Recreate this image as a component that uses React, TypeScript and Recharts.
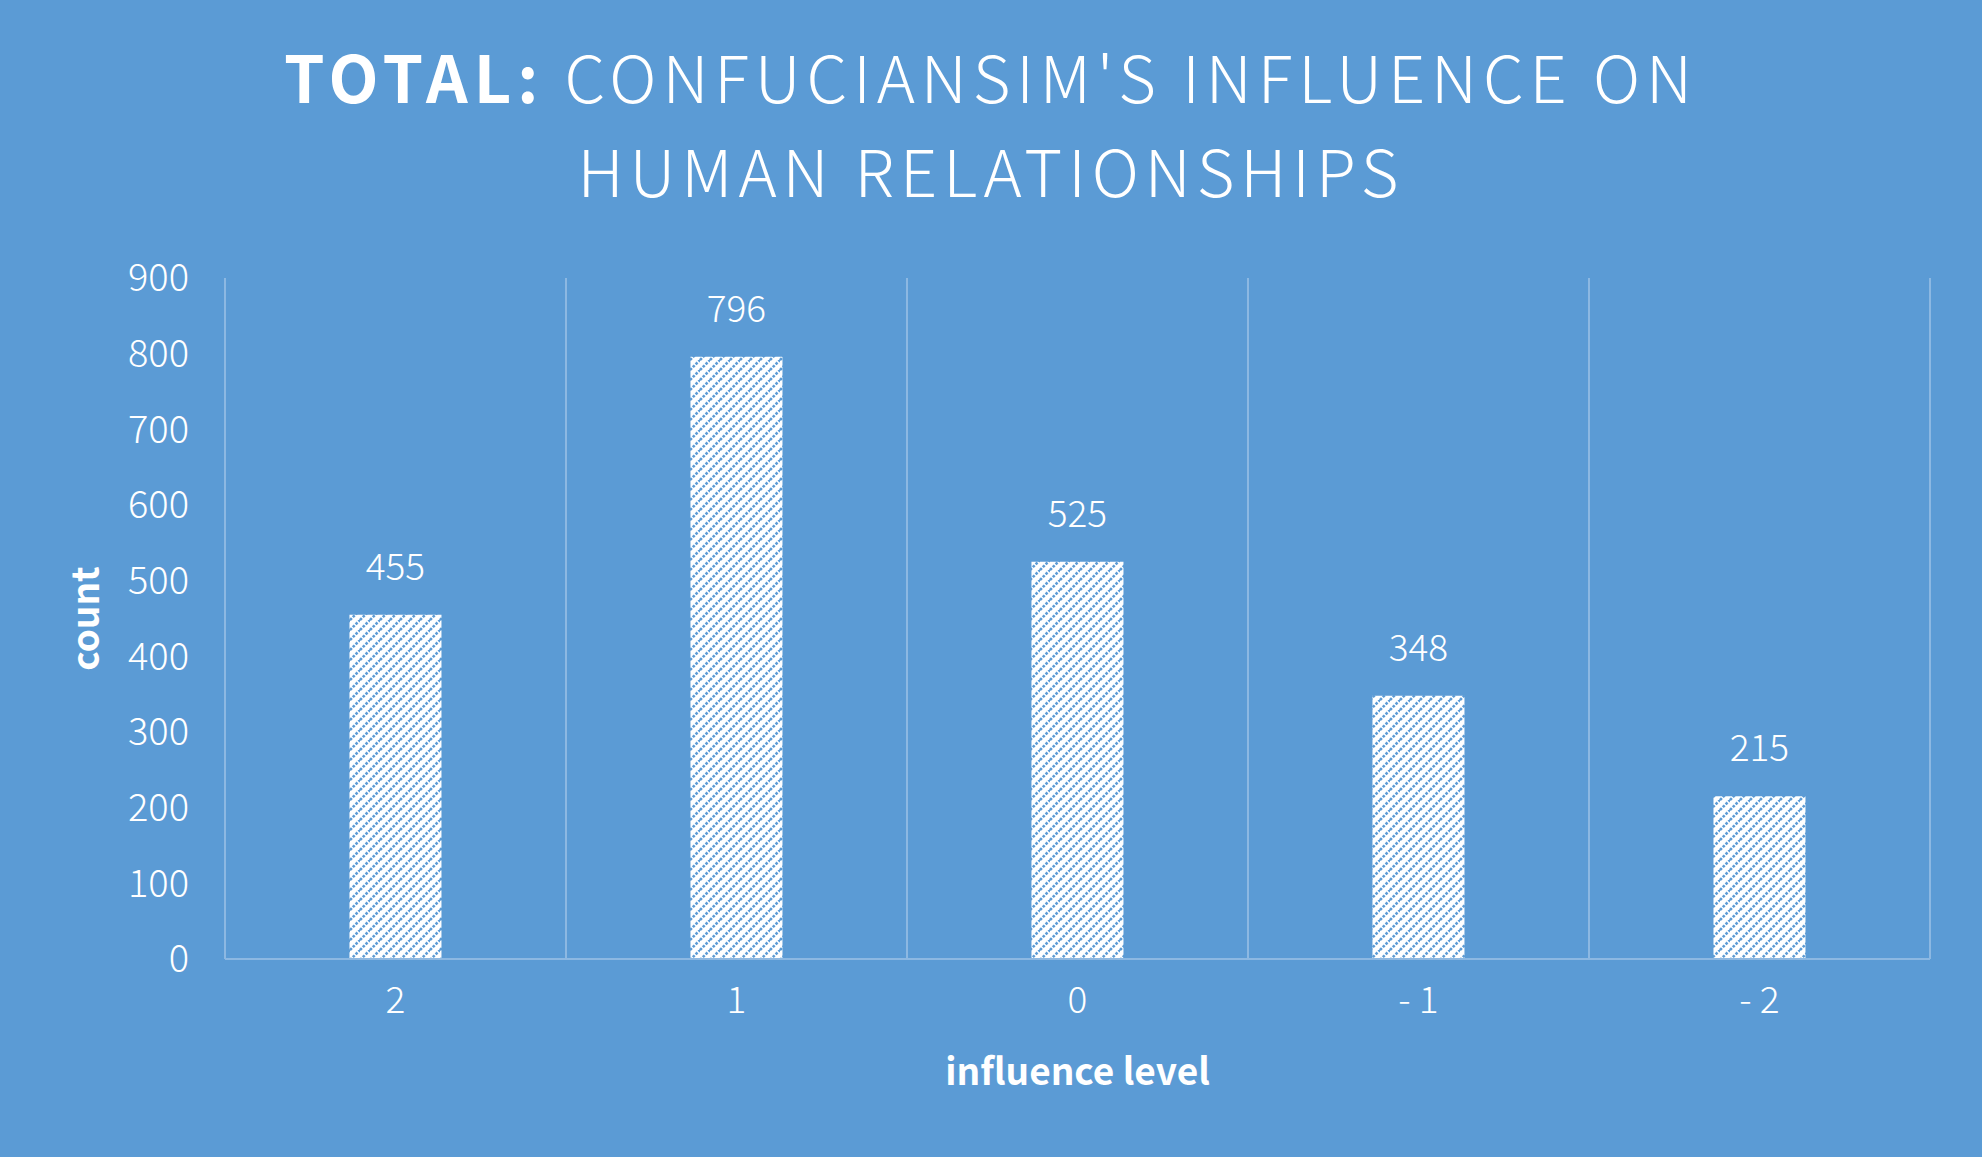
import React from "react";
import { BarChart, Bar, XAxis, YAxis, CartesianGrid, LabelList, Label } from "recharts";

const levels = ["2", "1", "0", "- 1", "- 2"];
const counts = [455, 796, 525, 348, 215];
const yTicks = [0, 100, 200, 300, 400, 500, 600, 700, 800, 900];

const data = levels.map((level, i) => ({ level, count: counts[i] }));

const BG = "#5B9BD5";
const GRID = "#8CB8E2";
const FONT = "'Noto Sans CJK SC', 'Noto Sans', sans-serif";

export default function App() {
  return (
    <div style={{ position: "fixed", left: 0, top: 0, width: 1982, height: 1157, background: BG, fontFamily: FONT }}>
      <svg width={0} height={0} style={{ position: "absolute" }}>
        <defs>
          <pattern id="hatch" patternUnits="userSpaceOnUse" width={10} height={10}>
            <rect width={10} height={10} fill="#ffffff" />
            <path d="M-3,3 L3,-3 M0,10 L10,0 M7,13 L13,7" stroke={BG} strokeWidth={2.6} strokeDasharray="2.6 1.4" />
          </pattern>
        </defs>
      </svg>
      <div
        style={{
          position: "absolute",
          left: 0,
          width: 1982,
          top: 28,
          textAlign: "center",
          color: "#fff",
          fontSize: 65,
          lineHeight: "94px",
          letterSpacing: 5.9,
          fontWeight: 300,
        }}
      >
        <span style={{ fontWeight: 700 }}>TOTAL:</span> CONFUCIANSIM'S INFLUENCE ON
        <br />
        HUMAN RELATIONSHIPS
      </div>
      <BarChart
        width={1982}
        height={1157}
        data={data}
        margin={{ top: 278, right: 52, left: 0, bottom: 0 }}
        barCategoryGap="36.5%"
        style={{ position: "absolute", left: 0, top: 0 }}
      >
        <CartesianGrid
          horizontal={false}
          stroke={GRID}
          strokeWidth={2}
          verticalCoordinatesGenerator={({ offset }: any) =>
            [0, 1, 2, 3, 4, 5].map((i) => offset.left + (i * offset.width) / levels.length)
          }
        />
        <XAxis
          dataKey="level"
          height={198}
          axisLine={{ stroke: GRID, strokeWidth: 2 }}
          tickLine={false}
          tick={{ fill: "#fff", fontSize: 37, fontWeight: 300, fontFamily: FONT }}
          tickMargin={22}
        >
          <Label value="influence level" position="insideTop" offset={100} fill="#fff" fontSize={37} fontWeight={700} fontFamily={FONT} />
        </XAxis>
        <YAxis
          width={225}
          domain={[0, 900]}
          ticks={yTicks}
          axisLine={false}
          tickLine={false}
          tick={{ fill: "#fff", fontSize: 38, fontWeight: 300, fontFamily: FONT }}
          tickMargin={30}
          interval={0}
        >
          <Label value="count" angle={-90} position="insideLeft" offset={86} fill="#fff" fontSize={37} fontWeight={700} fontFamily={FONT} style={{ textAnchor: "middle" }} />
        </YAxis>
        <Bar dataKey="count" fill="url(#hatch)" isAnimationActive={false}>
          <LabelList dataKey="count" position="top" offset={35} fill="#fff" fontSize={37} fontWeight={300} fontFamily={FONT} />
        </Bar>
      </BarChart>
    </div>
  );
}
